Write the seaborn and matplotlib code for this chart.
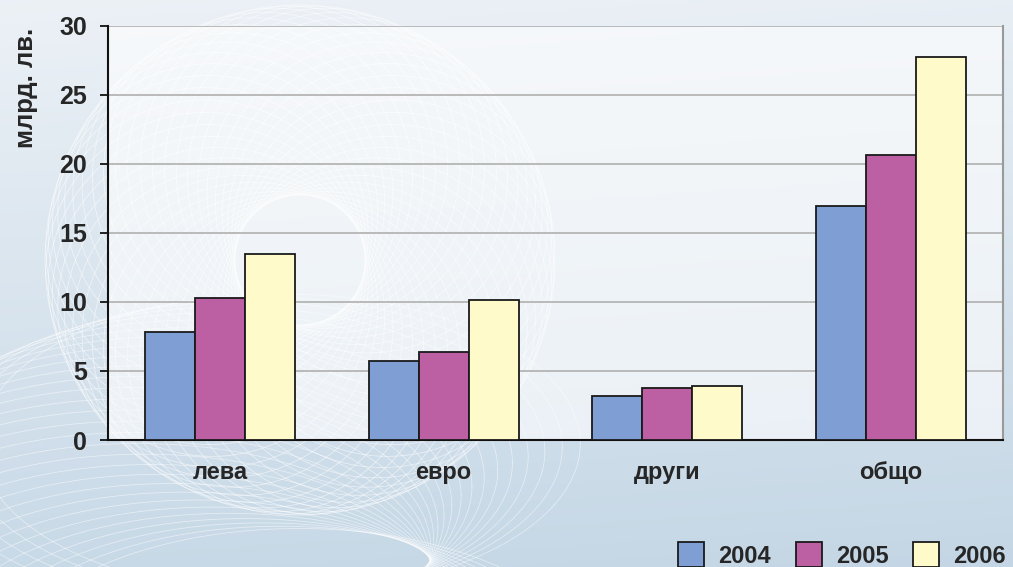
import numpy as np
import pandas as pd
import matplotlib
matplotlib.use("Agg")
import matplotlib.pyplot as plt
import seaborn as sns

# ---- data ----
categories = ["лева", "евро", "други", "общо"]
years = ["2004", "2005", "2006"]
values_2004 = [7.8, 5.75, 3.2, 16.95]
values_2005 = [10.3, 6.35, 3.8, 20.65]
values_2006 = [13.5, 10.15, 3.9, 27.7]
y_ticks = [0, 5, 10, 15, 20, 25, 30]
y_label = "млрд. лв."
colors = ["#7F9ED3", "#BC5FA3", "#FFFACA"]

df = pd.DataFrame({
    "cat": categories * 3,
    "year": [years[0]] * 4 + [years[1]] * 4 + [years[2]] * 4,
    "val": values_2004 + values_2005 + values_2006,
})

sns.set_style("white")
plt.rcParams["font.family"] = ["Liberation Sans", "DejaVu Sans"]
plt.rcParams["font.weight"] = "bold"

W, H = 1013, 567
fig = plt.figure(figsize=(W / 100, H / 100), dpi=100)

# ---- decorative background ----
bg = fig.add_axes([0, 0, 1, 1], zorder=-10)
yy = np.linspace(0, 1, 200)[:, None]
xx = np.linspace(0, 1, 300)[None, :]
top = np.array([0.925, 0.945, 0.965])
bot = np.array([0.76, 0.835, 0.895])
t = np.clip(yy * 0.85 + xx * 0.1, 0, 1)[..., None]
grad = top * (1 - t) + bot * t
bg.imshow(grad, aspect="auto", extent=[0, W, H, 0], interpolation="bilinear")
th = np.linspace(0, 2 * np.pi, 400)
cx, cy = 300, 260
for k in range(48):
    a = 2 * np.pi * k / 48
    ox, oy = cx + 95 * np.cos(a), cy + 95 * np.sin(a)
    bg.plot(ox + 160 * np.cos(th), oy + 160 * np.sin(th), color="white",
            lw=0.6, alpha=0.55)
for k in range(30):
    a = np.pi * 0.55 + 0.9 * np.pi * k / 30
    ox, oy = 330 + 200 * np.cos(a), 560 + 120 * np.sin(a)
    bg.plot(ox + 300 * np.cos(th), oy + 150 * np.sin(th), color="white",
            lw=0.6, alpha=0.5)
bg.set_xlim(0, W)
bg.set_ylim(H, 0)
bg.axis("off")

# ---- main axes ----
ax = fig.add_axes([108 / W, 1 - 440 / H, (1003 - 108) / W, (440 - 25.7) / H])
ax.set_facecolor((1, 1, 1, 0.6))

sns.barplot(data=df, x="cat", y="val", hue="year", palette=colors,
            width=0.67, edgecolor="#1a1a1a", linewidth=1.3, saturation=1,
            errorbar=None, ax=ax, zorder=3)

handles, labels = ax.get_legend_handles_labels()
if ax.get_legend() is not None:
    ax.get_legend().remove()

ax.set_xlim(-0.5, 3.5)
ax.set_ylim(0, 30)
ax.set_yticks(y_ticks)
ax.set_yticklabels([str(v) for v in y_ticks], fontsize=18, fontweight="bold")
ax.yaxis.grid(True, color="#b5b5b5", lw=1.3, zorder=0)
ax.set_axisbelow(True)

ax.set_xticks(range(len(categories)))
ax.set_xticklabels(categories, fontsize=17, fontweight="bold")
ax.set_xticks(np.arange(-0.5, len(categories) + 0.5, 1), minor=True)
ax.tick_params(axis="x", which="major", length=0, pad=15)
ax.tick_params(axis="x", which="minor", length=8, width=1.5, color="#333333",
               direction="out")
ax.tick_params(axis="y", length=6, width=1.3, color="#111111", direction="out",
               pad=9, left=True)

ax.set_xlabel("")
ax.set_ylabel(y_label, fontsize=18.5, fontweight="bold")
ax.yaxis.set_label_coords(-0.092, 0.85)
ax.yaxis.label.set_va("center")

for s in ["left", "bottom"]:
    ax.spines[s].set_color("#111111")
    ax.spines[s].set_linewidth(1.5)
ax.spines["top"].set_visible(False)
ax.spines["right"].set_color("#9a9a9a")
ax.spines["right"].set_linewidth(1.5)

fig.legend(handles, labels, loc="center left", bbox_to_anchor=(678 / W, 1 - 555 / H),
           ncol=3, frameon=False, borderpad=0, borderaxespad=0,
           handlelength=1.1, handleheight=1.2, handletextpad=0.6,
           columnspacing=1.05, prop={"weight": "bold", "size": 17})

fig.savefig("out.png", dpi=100)
